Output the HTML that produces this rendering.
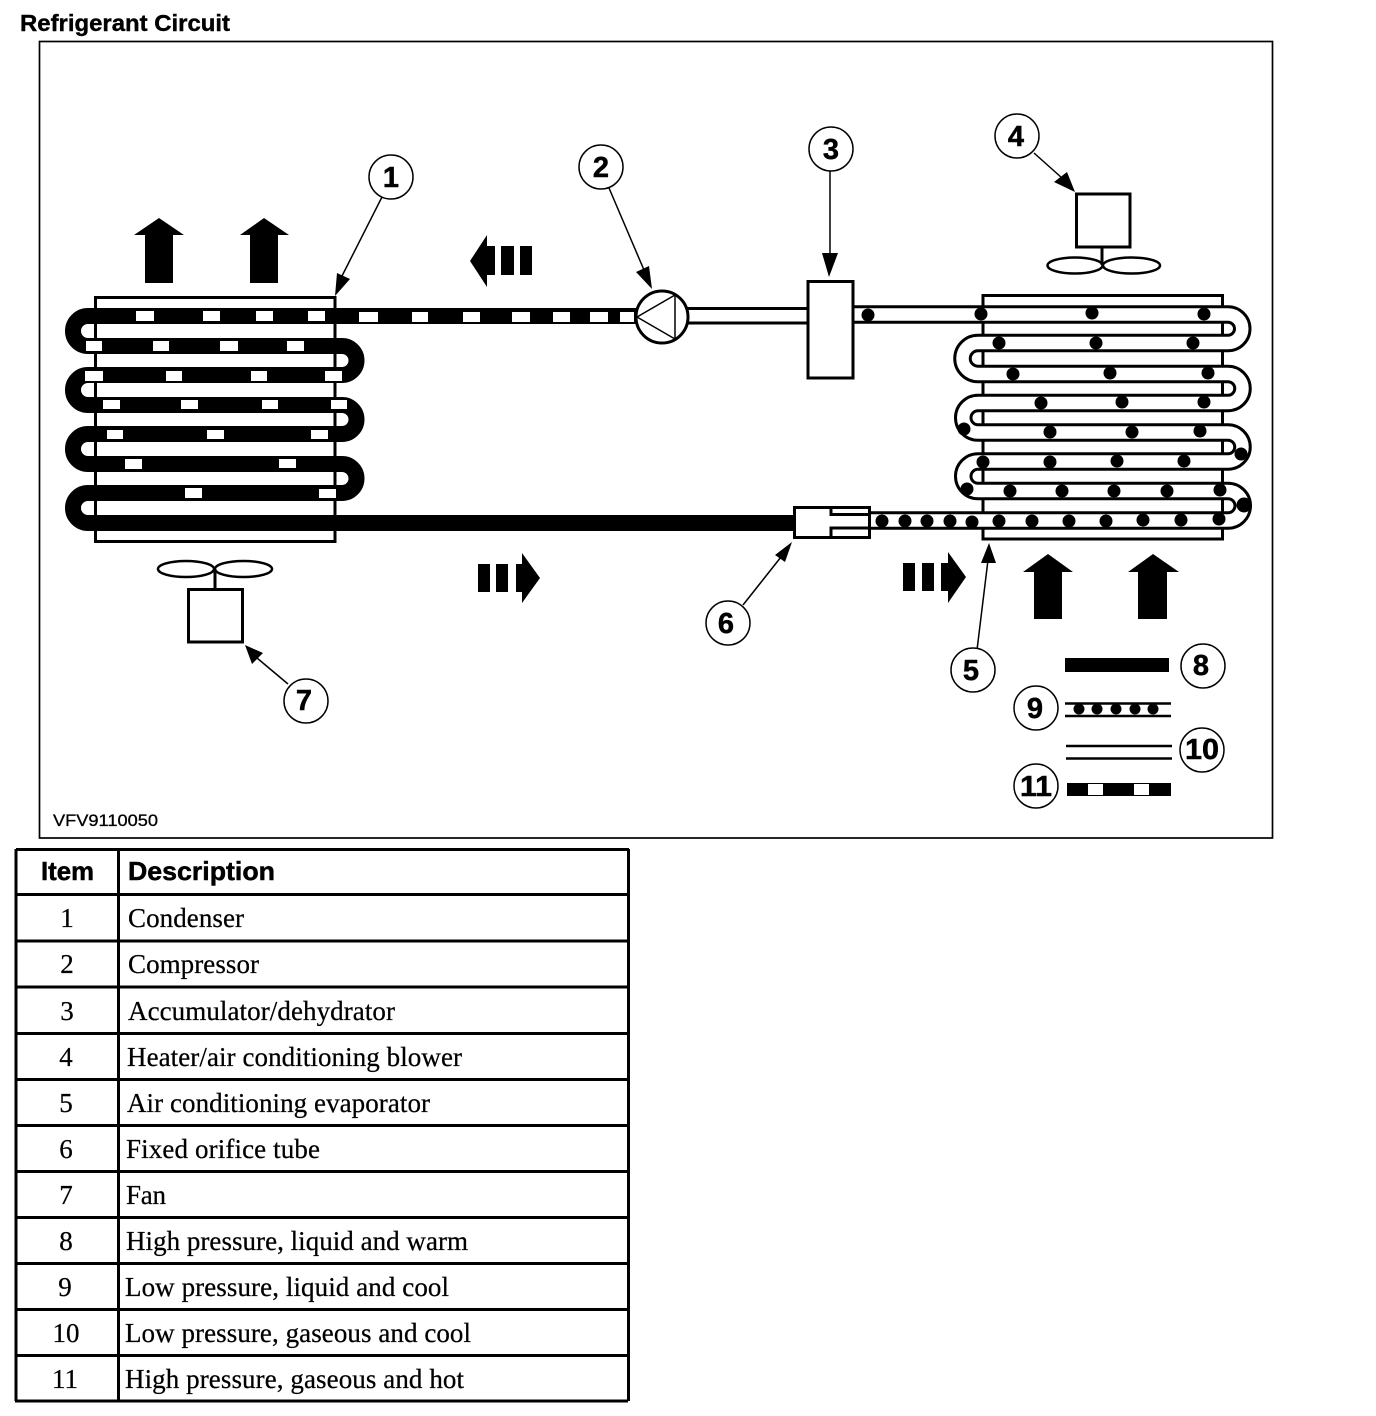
<!DOCTYPE html>
<html><head><meta charset="utf-8"><title>Refrigerant Circuit</title>
<style>html,body{margin:0;padding:0;background:#fff}svg{display:block}
.c{fill:#fff;stroke:#000;stroke-width:1.5}
.n{font:bold 29px "Liberation Sans",sans-serif;text-anchor:middle;stroke:#000;stroke-width:.5}
.t{font:27px "Liberation Serif",serif;stroke:#000;stroke-width:.25}
.i{font:27px "Liberation Serif",serif;text-anchor:middle;stroke:#000;stroke-width:.25}
.h{font:bold 26px "Liberation Sans",sans-serif;stroke:#000;stroke-width:.5}
.l{fill:none;stroke:#000;stroke-width:1.5}
.b{fill:#fff;stroke:#000;stroke-width:3}
.e{fill:none;stroke:#000;stroke-width:3}
</style></head><body>
<svg width="1376" height="1416" viewBox="0 0 1376 1416" xmlns="http://www.w3.org/2000/svg">
<rect width="1376" height="1416" fill="#fff"/>
<text x="20" y="31" font-family="Liberation Sans, sans-serif" font-weight="bold" font-size="23" stroke="#000" stroke-width=".4" textLength="210" lengthAdjust="spacingAndGlyphs">Refrigerant Circuit</text>
<rect x="39.500" y="41.500" width="1233" height="796.500" fill="none" stroke="#000" stroke-width="1.700"/>
<text x="53" y="826" font-family="Liberation Sans, sans-serif" font-size="17" stroke="#000" stroke-width=".3" textLength="105" lengthAdjust="spacingAndGlyphs">VFV9110050</text>

<!-- condenser -->
<rect x="95.500" y="297.500" width="239.500" height="244" fill="#fff" stroke="#000" stroke-width="3"/>
<path d="M636 316H88A15 15 0 0 0 88 346H342A14.500 14.500 0 0 1 342 375H88A15 15 0 0 0 88 405H342A14.500 14.500 0 0 1 342 434H88A15 15 0 0 0 88 464H342A14.500 14.500 0 0 1 342 493H88A15 15 0 0 0 88 523H796" fill="none" stroke="#000" stroke-width="16"/>
<path fill="#fff" d="M136 311h18v10h-18zM203 311h17v10h-17zM256 311h17v10h-17zM308 311h17v10h-17zM359 312h19v10h-19zM412 312h16v10h-16zM463 312h17v10h-17zM512 312h18v10h-18zM553 312h17v10h-17zM590 312h18v10h-18zM620 312h14v10h-14zM86 341h16v10h-16zM153 341h16v10h-16zM220 341h18v10h-18zM287 341h17v10h-17zM85 371h18v10h-18zM166 371h16v10h-16zM251 371h16v10h-16zM325 371h17v10h-17zM103 400h17v9h-17zM181 400h17v9h-17zM262 400h16v9h-16zM331 400h16v9h-16zM107 430h16v9h-16zM207 430h17v9h-17zM311 430h17v9h-17zM125 459h17v10h-17zM279 459h17v9h-17zM185 488h17v10h-17zM319 489h17v9h-17z"/>

<!-- evaporator -->
<rect x="983" y="295.500" width="239.500" height="243.500" fill="#fff" stroke="#000" stroke-width="3"/>
<path d="M853 314.500H1228A14.250 14.250 0 0 1 1228 343H978A15.500 15.500 0 0 0 978 374H1228A14.500 14.500 0 0 1 1228 403H978A14.750 14.750 0 0 0 978 432.500H1228A14.500 14.500 0 0 1 1228 461.500H978A14.750 14.750 0 0 0 978 491H1228A14.750 14.750 0 0 1 1228 520.500H868" fill="none" stroke="#000" stroke-width="18.500"/>
<path d="M853 314.500H1228A14.250 14.250 0 0 1 1228 343H978A15.500 15.500 0 0 0 978 374H1228A14.500 14.500 0 0 1 1228 403H978A14.750 14.750 0 0 0 978 432.500H1228A14.500 14.500 0 0 1 1228 461.500H978A14.750 14.750 0 0 0 978 491H1228A14.750 14.750 0 0 1 1228 520.500H868" fill="none" stroke="#fff" stroke-width="12.500"/>
<g fill="#000">
<circle cx="868" cy="315" r="6.500"/><circle cx="981" cy="314" r="6.500"/><circle cx="1092" cy="313" r="6.500"/><circle cx="1204" cy="314" r="6.500"/>
<circle cx="999" cy="343" r="6.500"/><circle cx="1096" cy="343" r="6.500"/><circle cx="1193" cy="343" r="6.500"/>
<circle cx="1013" cy="374" r="6.500"/><circle cx="1110" cy="373" r="6.500"/><circle cx="1208" cy="373" r="6.500"/>
<circle cx="1041" cy="403" r="6.500"/><circle cx="1122" cy="402" r="6.500"/><circle cx="1204" cy="402" r="6.500"/>
<circle cx="964" cy="429" r="6.500"/><circle cx="1050" cy="432" r="6.500"/><circle cx="1132" cy="432" r="6.500"/><circle cx="1200" cy="431" r="6.500"/>
<circle cx="1241" cy="454" r="6.500"/>
<circle cx="983" cy="462" r="6.500"/><circle cx="1050" cy="462" r="6.500"/><circle cx="1117" cy="461" r="6.500"/><circle cx="1184" cy="461" r="6.500"/>
<circle cx="967" cy="489" r="6.500"/><circle cx="1010" cy="491" r="6.500"/><circle cx="1062" cy="491" r="6.500"/><circle cx="1114" cy="491" r="6.500"/><circle cx="1167" cy="491" r="6.500"/><circle cx="1220" cy="490" r="6.500"/>
<circle cx="1244" cy="505" r="7.500"/>
<circle cx="882" cy="521" r="6.500"/><circle cx="905" cy="521" r="6.500"/><circle cx="927" cy="521" r="6.500"/><circle cx="950" cy="521" r="6.500"/><circle cx="972" cy="522" r="6.500"/>
<circle cx="999" cy="521" r="6.500"/><circle cx="1032" cy="521" r="6.500"/><circle cx="1069" cy="521" r="6.500"/><circle cx="1106" cy="521" r="6.500"/><circle cx="1143" cy="520" r="6.500"/><circle cx="1181" cy="520" r="6.500"/><circle cx="1219" cy="519" r="6.500"/>
</g>

<!-- pipe compressor to accumulator -->
<path d="M686 308.500H808M686 323H808" stroke="#000" stroke-width="3" fill="none"/>
<!-- compressor -->
<circle cx="662" cy="317" r="26" class="b"/>
<path d="M637 317L675 295M637 317L675 339M675 294V340" class="l"/>
<!-- accumulator -->
<rect x="808" y="281.500" width="45" height="96.500" class="b"/>
<!-- orifice -->
<rect x="794.500" y="507.500" width="75" height="30" class="b"/>
<path d="M831 508V514.500H869M831 537V528H869" class="e"/>

<!-- big arrows -->
<g fill="#000">
<path d="M159 218L184 235H173V283H145V235H134Z"/>
<path d="M264 218L289 235H278V283H250V235H240Z"/>
<path d="M1048 554L1073 572H1062V619H1034V572H1023Z"/>
<path d="M1153 554L1179 572H1167V619H1138V572H1128Z"/>
<path d="M470 261L487 235V246H495V275H487V287Z"/>
<rect x="501" y="246" width="13" height="29"/><rect x="520" y="246" width="12" height="29"/>
<rect x="478" y="564" width="12" height="28"/><rect x="496" y="564" width="12" height="28"/>
<path d="M540 578L522 603V592H516V564H522V553Z"/>
<rect x="903" y="563" width="12" height="28"/><rect x="922" y="563" width="12" height="28"/>
<path d="M966 577L948 603V591H941V563H948V552Z"/>
</g>

<!-- fans -->
<ellipse cx="186" cy="569" rx="28" ry="8" class="e" style="stroke-width:2.500"/><ellipse cx="243.500" cy="569" rx="28.500" ry="8" class="e" style="stroke-width:2.500"/>
<path d="M215 569V589" class="e"/>
<rect x="188.500" y="589.500" width="54" height="52.500" class="b"/>
<ellipse cx="1075" cy="265.500" rx="27.500" ry="8" class="e" style="stroke-width:2.500"/><ellipse cx="1131.500" cy="265.500" rx="28.500" ry="8" class="e" style="stroke-width:2.500"/>
<path d="M1102 247V265" class="e"/>
<rect x="1076.500" y="194" width="53.500" height="53" class="b"/>

<!-- leaders -->
<path class="l" d="M382 197L342 276M609 188L644 270M830 171V258M1034 153L1062 178M977 650L988 560M743 605L781 557M288 684L257 658"/>
<g fill="#000">
<path d="M335 296L337 273L350 279Z"/>
<path d="M652 289L636 272L649 266Z"/>
<path d="M829 277L822 253L838 253Z"/>
<path d="M1075 192L1054 182L1067 172Z"/>
<path d="M989 543L981 563L996 563Z"/>
<path d="M792 542L775 555L785 562Z"/>
<path d="M245 645L252 664L263 653Z"/>
</g>

<!-- legend -->
<rect x="1065" y="658" width="104" height="14" fill="#000"/>
<path d="M1065 703.500H1171M1065 716H1171" stroke="#000" stroke-width="2.500"/>
<g fill="#000"><circle cx="1079" cy="709" r="5.500"/><circle cx="1097" cy="709" r="5.500"/><circle cx="1116" cy="709" r="5.500"/><circle cx="1135" cy="709" r="5.500"/><circle cx="1153" cy="709" r="5.500"/></g>
<path d="M1066 746H1172M1066 758.500H1172" stroke="#000" stroke-width="2.500"/>
<rect x="1067" y="783" width="104" height="13" fill="#000"/>
<rect x="1088" y="784" width="15" height="11" fill="#fff"/><rect x="1134" y="784" width="15" height="11" fill="#fff"/>

<!-- callouts -->
<circle cx="391" cy="177" r="22" class="c"/><text x="391" y="187" class="n">1</text>
<circle cx="601" cy="167" r="22" class="c"/><text x="601" y="177" class="n">2</text>
<circle cx="831" cy="149" r="22" class="c"/><text x="831" y="159" class="n">3</text>
<circle cx="1017" cy="136" r="22" class="c"/><text x="1016" y="146" class="n">4</text>
<circle cx="973" cy="670" r="22" class="c"/><text x="971" y="680" class="n">5</text>
<circle cx="728" cy="623" r="22" class="c"/><text x="726" y="633" class="n">6</text>
<circle cx="306" cy="701" r="22" class="c"/><text x="304" y="710" class="n">7</text>
<circle cx="1203" cy="666" r="22" class="c"/><text x="1201" y="675" class="n">8</text>
<circle cx="1036" cy="708" r="22" class="c"/><text x="1035" y="718" class="n">9</text>
<circle cx="1202" cy="750" r="22" class="c"/><text x="1202" y="759" class="n" textLength="34" lengthAdjust="spacingAndGlyphs">10</text>
<circle cx="1036" cy="786" r="22" class="c"/><text x="1036" y="796" class="n" textLength="32" lengthAdjust="spacingAndGlyphs">11</text>

<!-- table -->
<path d="M16 849.500H629M16 894.500H629M16 941H629M16 987H629M16 1033.500H629M16 1079.500H629M16 1125.500H629M16 1171.500H629M16 1217.500H628M16 1263.500H628M16 1309.500H628M16 1355.500H628M15 1401H628M16 849V1401M118.500 849V1401M628.500 849V1401" fill="none" stroke="#000" stroke-width="3"/>
<text x="41" y="880" class="h" textLength="53" lengthAdjust="spacingAndGlyphs">Item</text>
<text x="128" y="880" class="h" textLength="147" lengthAdjust="spacingAndGlyphs">Description</text>
<text x="67" y="927" class="i">1</text><text x="128" y="927" class="t" textLength="116" lengthAdjust="spacing">Condenser</text>
<text x="67" y="973" class="i">2</text><text x="128" y="973" class="t" textLength="131" lengthAdjust="spacing">Compressor</text>
<text x="67" y="1020" class="i">3</text><text x="128" y="1020" class="t" textLength="267" lengthAdjust="spacing">Accumulator/dehydrator</text>
<text x="66" y="1066" class="i">4</text><text x="127" y="1066" class="t" textLength="335" lengthAdjust="spacing">Heater/air conditioning blower</text>
<text x="66" y="1112" class="i">5</text><text x="127" y="1112" class="t" textLength="303" lengthAdjust="spacing">Air conditioning evaporator</text>
<text x="66" y="1158" class="i">6</text><text x="126" y="1158" class="t" textLength="194" lengthAdjust="spacing">Fixed orifice tube</text>
<text x="66" y="1204" class="i">7</text><text x="126" y="1204" class="t" textLength="40" lengthAdjust="spacing">Fan</text>
<text x="66" y="1250" class="i">8</text><text x="126" y="1250" class="t" textLength="342" lengthAdjust="spacing">High pressure, liquid and warm</text>
<text x="65" y="1296" class="i">9</text><text x="125" y="1296" class="t" textLength="324" lengthAdjust="spacing">Low pressure, liquid and cool</text>
<text x="66" y="1342" class="i">10</text><text x="125" y="1342" class="t" textLength="346" lengthAdjust="spacing">Low pressure, gaseous and cool</text>
<text x="65" y="1388" class="i">11</text><text x="125" y="1388" class="t" textLength="339" lengthAdjust="spacing">High pressure, gaseous and hot</text>
</svg>
</body></html>
